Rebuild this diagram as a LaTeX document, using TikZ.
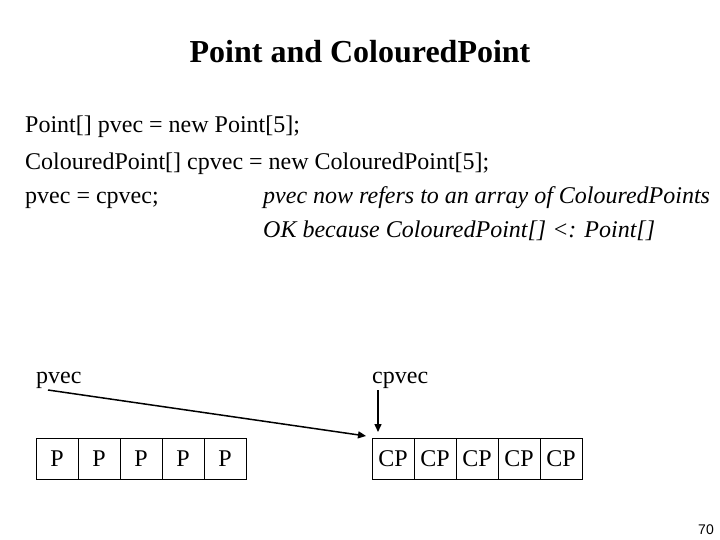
\documentclass[tikz,border=0pt]{standalone}
\usepackage{fontspec}
\setmainfont{Liberation Serif}
\newfontfamily\pagefont{Liberation Sans}
\usepackage{tikz}
\usetikzlibrary{positioning, arrows.meta}

\tikzset{
  slidetext/.style={anchor=base west, inner sep=0pt, font=\fontsize{24}{28}\selectfont},
  notetext/.style={slidetext, font=\itshape\fontsize{24}{28}\selectfont},
  cell/.style={draw, line width=0.8pt, outer sep=0pt, inner sep=0pt,
               minimum width=42pt, minimum height=41pt, font=\fontsize{24}{28}\selectfont},
  ptr/.style={line width=1.5pt, -{Triangle[length=8pt,width=7pt]}}
}

\begin{document}
\begin{tikzpicture}[x=1pt, y=-1pt]
    \useasboundingbox (0,0) rectangle (720,540);
    \node[anchor=base, inner sep=0pt, font=\bfseries\fontsize{32}{38}\selectfont] (title) at (360,63) {Point and ColouredPoint};
    \node[slidetext] (declP) at (25,133) {Point[] pvec = new Point[5];};
    \node[slidetext] (declCP) at (25,170) {ColouredPoint[] cpvec = new ColouredPoint[5];};
    \node[slidetext] (assign) at (25,204) {pvec = cpvec;};
    \node[notetext] (noteA) at (263,204) {pvec now refers to an array of ColouredPoints};
    \node[notetext] (noteB) at (263,237) {OK because ColouredPoint[] <: Point[]};

    \node[slidetext] (pvecLabel) at (36,383) {pvec};
    \node[slidetext] (cpvecLabel) at (372,383) {cpvec};

    \node[cell, anchor=north west] (pcell1) at (36,438) {P};
    \node[cell, anchor=north west] (cpcell1) at (372,438) {CP};
    \foreach \i [count=\j from 2] in {1,...,4} {
      \node[cell, right=0pt of pcell\i] (pcell\j) {P};
      \node[cell, right=0pt of cpcell\i] (cpcell\j) {CP};
    }

    \draw[ptr] ([xshift=12pt,yshift=-7pt]pvecLabel.base west) -- ([xshift=-6pt,yshift=2pt]cpcell1.north west);
    \draw[ptr] ([xshift=6pt,yshift=-7pt]cpvecLabel.base west) -- ([xshift=6pt,yshift=6pt]cpcell1.north west);

    \node[anchor=base east, inner sep=0pt, font=\pagefont\fontsize{14}{16}\selectfont] (pagenum) at (714,534) {70};
  \end{tikzpicture}
\end{document}
